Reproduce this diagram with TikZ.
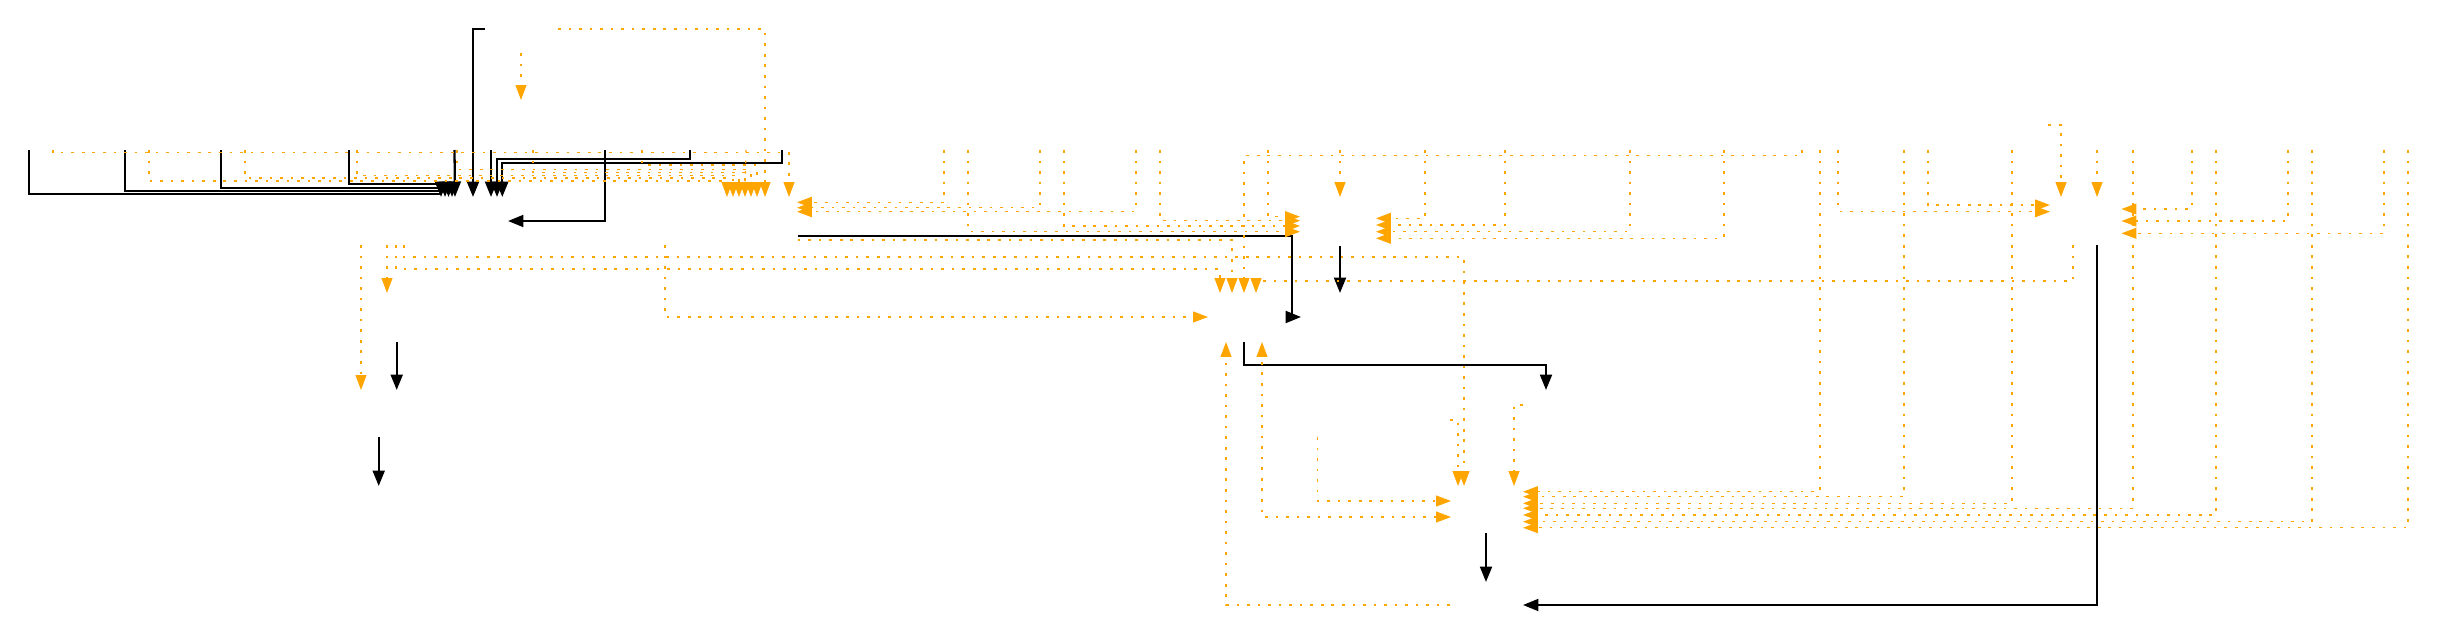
\documentclass[tikz,border=0pt]{standalone}
\usetikzlibrary{arrows.meta}
\definecolor{og}{HTML}{FFA500}
\begin{document}
\begin{tikzpicture}[x=0.02cm,y=-0.02cm,
  bk/.style={draw=black,line width=1.3pt,-{Triangle[length=8.8pt,width=6.8pt]}},
  ob/.style={draw=og,line width=0.7pt,dash pattern=on 1.5pt off 4.5pt,-{Triangle[length=8.5pt,width=6.2pt]}},
  obb/.style={draw=og,line width=0.7pt,dash pattern=on 1.5pt off 4.5pt,{Triangle[length=8.5pt,width=6.2pt]}-{Triangle[length=8.5pt,width=6.2pt]}}]
\useasboundingbox (0,0) rectangle (2437,635);
% ---------- coordinates: black edges
\coordinate (b1s) at (29,150);    \coordinate (b1e) at (441,197);
\coordinate (b2s) at (125,150);   \coordinate (b2e) at (445,197);
\coordinate (b3s) at (221,150);   \coordinate (b3e) at (448.5,197);
\coordinate (b4s) at (349,150);   \coordinate (b4e) at (452,197);
\coordinate (b5s) at (454.5,150); \coordinate (b5e) at (455,197);
\coordinate (b6s) at (485,29);    \coordinate (b6e) at (473,197);
\coordinate (b7s) at (491,150);   \coordinate (b7e) at (491,197);
\coordinate (b8s) at (690,150);   \coordinate (b8e) at (497,197);
\coordinate (b9s) at (781.7,150); \coordinate (b9e) at (502.3,197);
\coordinate (b10s) at (605,150);  \coordinate (b10e) at (508,221);
\coordinate (b11s) at (797.7,236);\coordinate (b11e) at (1301,317);
\coordinate (b12s) at (1340,246); \coordinate (b12e) at (1340,293);
\coordinate (b13s) at (1244,342); \coordinate (b13e) at (1546,390);
\coordinate (b14s) at (1486,533); \coordinate (b14e) at (1486,582);
\coordinate (b15s) at (2097,245); \coordinate (b15e) at (1523,605);
\coordinate (b16s) at (396.7,342);\coordinate (b16e) at (396.7,390);
\coordinate (b17s) at (378.7,437);\coordinate (b17e) at (378.7,486);
% ---------- black edges
\draw[bk] (b1s) -- ++(0,44) -| (b1e);
\draw[bk] (b2s) -- ++(0,41) -| (b2e);
\draw[bk] (b3s) -- ++(0,37.7) -| (b3e);
\draw[bk] (b4s) -- ++(0,34.3) -| (b4e);
\draw[bk] (b5s) -- (b5e);
\draw[bk] (b6s) -| (b6e);
\draw[bk] (b7s) -- (b7e);
\draw[bk] (b8s) -- ++(0,9.3) -| (b8e);
\draw[bk] (b9s) -- ++(0,12.7) -| (b9e);
\draw[bk] (b10s) |- (b10e);
\draw[bk] (b11s) -| (1292,317) -- (b11e);
\draw[bk] (b12s) -- (b12e);
\draw[bk] (b13s) -- ++(0,23) -| (b13e);
\draw[bk] (b14s) -- (b14e);
\draw[bk] (b15s) |- (b15e);
\draw[bk] (b16s) -- (b16e);
\draw[bk] (b17s) -- (b17e);
% ---------- coordinates: orange edges
\coordinate (o1s) at (558,29);    \coordinate (o1e) at (765,197);
\coordinate (o2s) at (521,53);    \coordinate (o2e) at (521,100);
\coordinate (o3s) at (53,150);    \coordinate (o3e) at (789,197);
\coordinate (o4s) at (149,150);   \coordinate (o4e) at (727,197);
\coordinate (o5s) at (245,150);   \coordinate (o5e) at (733,197);
\coordinate (o6s) at (357,150);   \coordinate (o6e) at (739,197);
\coordinate (o7s) at (457,150);   \coordinate (o7e) at (745,197);
\coordinate (o8s) at (533,150);   \coordinate (o8e) at (751,197);
\coordinate (o9s) at (642,150);   \coordinate (o9e) at (757,197);
\coordinate (o10s) at (746,150);
\coordinate (o11s) at (944,150);  \coordinate (o11e) at (797,202.3);
\coordinate (o12s) at (1040,150); \coordinate (o12e) at (797,207.7);
\coordinate (o13s) at (1136,150); \coordinate (o13e) at (797,211.7);
\coordinate (o14s) at (968,150);  \coordinate (o14e) at (1300,231.7);
\coordinate (o15s) at (1064,150); \coordinate (o15e) at (1300,226);
\coordinate (o16s) at (1160,150); \coordinate (o16e) at (1300,220.7);
\coordinate (o17s) at (1268,150); \coordinate (o17e) at (1300,216.7);
\coordinate (o18s) at (1802,150); \coordinate (o18e) at (1244,293);
\coordinate (o19s) at (1340,150); \coordinate (o19e) at (1340,197);
\coordinate (o20s) at (1425,150); \coordinate (o20e) at (1376,218.3);
\coordinate (o21s) at (1505,150); \coordinate (o21e) at (1376,225);
\coordinate (o22s) at (1630,150); \coordinate (o22e) at (1376,231.7);
\coordinate (o23s) at (1724,150); \coordinate (o23e) at (1376,238.3);
\coordinate (o24s) at (797.7,240);\coordinate (o24e) at (1232,293);
\coordinate (o25s) at (404,245);  \coordinate (o25e) at (1464,486);
\coordinate (o26s) at (396,245);  \coordinate (o26e) at (1220,293);
\coordinate (o27s) at (387,245);  \coordinate (o27e) at (387,293);
\coordinate (o28s) at (361,245);  \coordinate (o28e) at (361,390);
\coordinate (o29s) at (665,245);  \coordinate (o29e) at (1208,317);
\coordinate (o30s) at (2073,245); \coordinate (o30e) at (1256,293);
\coordinate (o31s) at (1838,150); \coordinate (o31e) at (2050,211.7);
\coordinate (o32s) at (1928,150); \coordinate (o32e) at (2050,205);
\coordinate (o33s) at (2048,125); \coordinate (o33e) at (2061,197);
\coordinate (o34s) at (2097,150); \coordinate (o34e) at (2097,197);
\coordinate (o35s) at (2192,150); \coordinate (o35e) at (2121.5,209);
\coordinate (o36s) at (2288,150); \coordinate (o36e) at (2121.5,221);
\coordinate (o37s) at (2384,150); \coordinate (o37e) at (2121.5,233.3);
\coordinate (o38s) at (1820,150); \coordinate (o38e) at (1523,491.7);
\coordinate (o39s) at (1904,150); \coordinate (o39e) at (1523,496.7);
\coordinate (o40s) at (2012,150); \coordinate (o40e) at (1523,503.3);
\coordinate (o41s) at (2133,150); \coordinate (o41e) at (1523,508.3);
\coordinate (o42s) at (2216,150); \coordinate (o42e) at (1523,515);
\coordinate (o43s) at (2312,150); \coordinate (o43e) at (1523,521.7);
\coordinate (o44s) at (2408,150); \coordinate (o44e) at (1523,527.7);
\coordinate (o45s) at (1450,605); \coordinate (o45e) at (1226,342);
\coordinate (o46s) at (1451,517); \coordinate (o46e) at (1262,342);
\coordinate (o47s) at (1317.5,437);\coordinate (o47e) at (1451,501);
\coordinate (o48s) at (1450,420); \coordinate (o48e) at (1458,486);
\coordinate (o49s) at (1523,405); \coordinate (o49e) at (1514,486);
% ---------- orange edges
\draw[ob] (o1s) -| (o1e);
\draw[ob] (o2s) -- (o2e);
\draw[ob] (o3s) -- ++(0,2.7) -| (o3e);
\draw[ob] (o4s) -- ++(0,31) -| (o4e);
\draw[ob] (o5s) -- ++(0,28) -| (o5e);
\draw[ob] (o6s) -- ++(0,25.5) -| (o6e);
\draw[ob] (o7s) -- ++(0,19.3) -| (o7e);
\draw[ob] (o8s) -- ++(0,22.5) -| (o8e);
\draw[ob] (o9s) -- ++(0,15) -| (o9e);
\draw[ob,-] (o10s) -- (o7e |- o5e);
\draw[ob] (o11s) |- (o11e);
\draw[ob] (o12s) |- (o12e);
\draw[ob] (o13s) |- (o13e);
\draw[ob] (o14s) |- (o14e);
\draw[ob] (o15s) |- (o15e);
\draw[ob] (o16s) |- (o16e);
\draw[ob] (o17s) |- (o17e);
\draw[ob] (o18s) -- ++(0,5.7) -| (o18e);
\draw[ob] (o19s) -- (o19e);
\draw[ob] (o20s) |- (o20e);
\draw[ob] (o21s) |- (o21e);
\draw[ob] (o22s) |- (o22e);
\draw[ob] (o23s) |- (o23e);
\draw[ob] (o24s) -| (o24e);
\draw[ob] (o25s) -- ++(0,12) -| (o25e);
\draw[ob] (o26s) -- ++(0,24) -| (o26e);
\draw[ob] (o27s) -- (o27e);
\draw[ob] (o28s) -- (o28e);
\draw[ob] (o29s) |- (o29e);
\draw[ob] (o30s) -- ++(0,36) -| (o30e);
\draw[ob] (o31s) |- (o31e);
\draw[ob] (o32s) |- (o32e);
\draw[ob] (o33s) -| (o33e);
\draw[ob] (o34s) -- (o34e);
\draw[ob] (o35s) |- (o35e);
\draw[ob] (o36s) |- (o36e);
\draw[ob] (o37s) |- (o37e);
\draw[ob] (o38s) |- (o38e);
\draw[ob] (o39s) |- (o39e);
\draw[ob] (o40s) |- (o40e);
\draw[ob] (o41s) |- (o41e);
\draw[ob] (o42s) |- (o42e);
\draw[ob] (o43s) |- (o43e);
\draw[ob] (o44s) |- (o44e);
\draw[ob] (o45s) -| (o45e);
\draw[obb] (o46s) -| (o46e);
\draw[ob] (o47s) |- (o47e);
\draw[ob] (o48s) -| (o48e);
\draw[ob] (o49s) -| (o49e);
\end{tikzpicture}
\end{document}
